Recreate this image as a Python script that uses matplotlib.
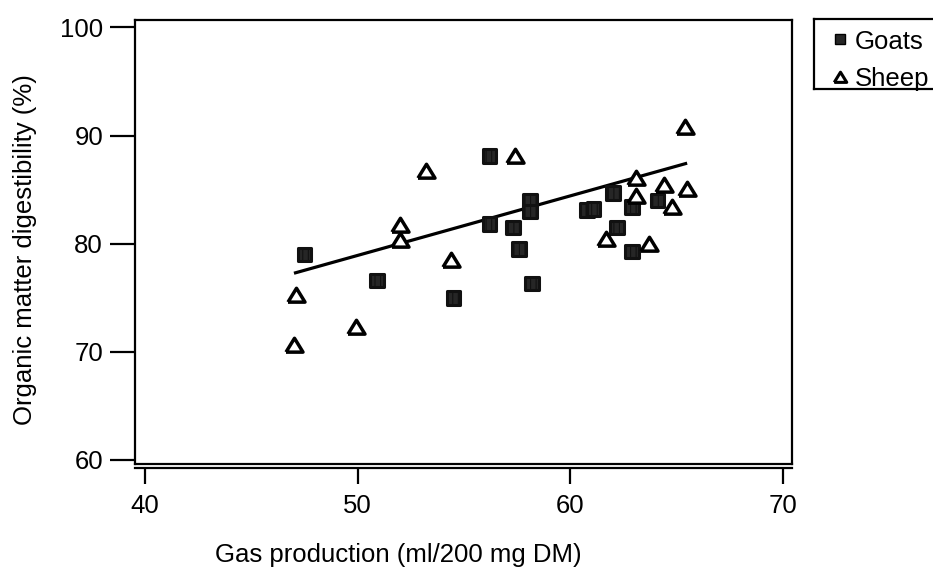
import matplotlib
matplotlib.use("Agg")
import matplotlib.pyplot as plt
from matplotlib.lines import Line2D
from matplotlib.markers import MarkerStyle
import numpy as np

plt.rcParams['font.family'] = ['Liberation Sans', 'DejaVu Sans']
plt.rcParams['hatch.linewidth'] = 0.8

goats_x = [47.5, 50.9, 54.5, 56.2, 58.1, 58.1, 56.2, 57.3, 57.6, 58.2, 60.8, 61.1, 62.0, 62.9, 62.2, 62.9, 64.1]
goats_y = [79.0, 76.6, 75.0, 88.1, 84.0, 83.0, 81.8, 81.5, 79.5, 76.3, 83.1, 83.2, 84.7, 83.4, 81.5, 79.3, 84.0]
sheep_x = [53.2, 52.0, 52.0, 54.4, 47.1, 49.9, 47.0, 57.4, 63.1, 63.1, 61.7, 63.7, 64.4, 65.4, 65.5, 64.8]
sheep_y = [86.7, 81.7, 80.3, 78.5, 75.3, 72.3, 70.6, 88.1, 86.1, 84.4, 80.4, 80.0, 85.4, 90.8, 85.1, 83.4]
fit_x = [47.0, 65.5]
fit_y = [77.27, 87.45]
x_ticks = [40, 50, 60, 70]
y_ticks = [60, 70, 80, 90, 100]
legend_labels = ["Goats", "Sheep"]

W, H = 933, 572
FS = 18.5
fig = plt.figure(figsize=(W / 100, H / 100), dpi=100)
ax = fig.add_axes([135 / W, 1 - 464.3 / H, (791.7 - 135) / W, (464.3 - 20) / H])

tri = [(-1, -0.78), (1, -0.78), (0, 0.85), (-1, -0.78)]
sq = MarkerStyle('s', joinstyle='round')

ax.plot(fit_x, fit_y, color='black', lw=2.3, solid_capstyle='butt', zorder=2)
ax.scatter(goats_x, goats_y, marker=sq, s=95, facecolor='#262626', edgecolor='#111111',
           linewidths=2.2, hatch='|||', zorder=3)
ax.scatter(sheep_x, sheep_y, marker=tri, s=150, facecolor='white', edgecolor='black',
           linewidths=2.5, zorder=4)

ax.set_xlim(39.52, 70.42)
ax.set_ylim(59.6, 100.69)
for sp in ax.spines.values():
    sp.set_linewidth(1.6)
ax.set_yticks(y_ticks)
ax.tick_params(axis='y', direction='out', length=18, width=1.6, pad=5, labelsize=FS)
ax.tick_params(axis='x', bottom=False, labelbottom=False)

sec = ax.secondary_xaxis(-0.009)
sec.set_xticks(x_ticks)
sec.spines['bottom'].set_linewidth(1.6)
sec.tick_params(axis='x', direction='out', length=11.5, width=1.6, pad=7, labelsize=FS)

fig.text(398 / W, 1 - 555 / H, "Gas production (ml/200 mg DM)", ha='center', va='center', fontsize=FS)
fig.text(25 / W, 1 - 250 / H, "Organic matter digestibility (%)", ha='center', va='center',
         rotation=90, fontsize=FS)

# legend box (extends beyond right edge of figure)
for (x0, y0, x1, y1) in [(814, 19, 940, 19), (814, 89, 940, 89), (814, 19, 814, 89)]:
    fig.add_artist(Line2D([x0 / W, x1 / W], [1 - y0 / H, 1 - y1 / H], color='black', lw=1.6,
                          transform=fig.transFigure, clip_on=False))
fig.add_artist(Line2D([840 / W], [1 - 39 / H], marker='s', markersize=6.5, markerfacecolor='#262626',
                      markeredgecolor='black', linestyle='none', transform=fig.transFigure))
fig.add_artist(Line2D([840 / W], [1 - 77 / H], marker=tri, markersize=9, markerfacecolor='white',
                      markeredgecolor='black', markeredgewidth=2.2, linestyle='none', transform=fig.transFigure))
fig.text(855 / W, 1 - 49 / H, legend_labels[0], ha='left', va='baseline', fontsize=FS)
fig.text(855 / W, 1 - 86 / H, legend_labels[1], ha='left', va='baseline', fontsize=FS)

fig.savefig("out.png", dpi=100)
